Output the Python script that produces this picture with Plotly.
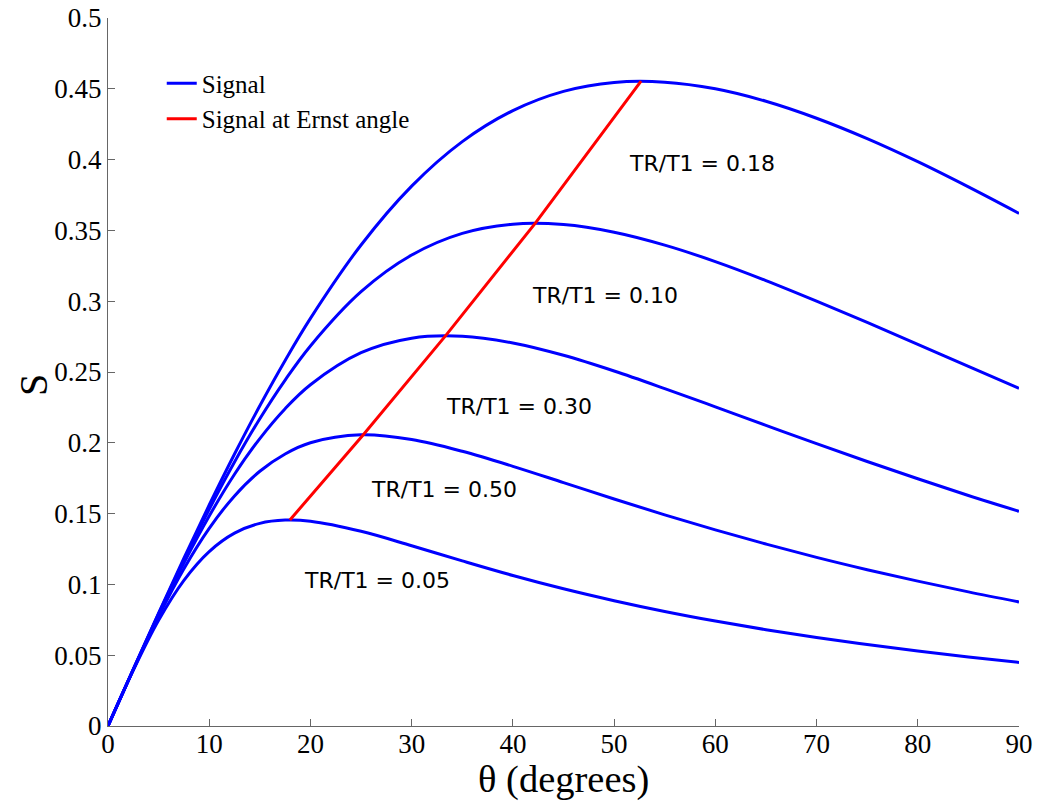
import plotly.graph_objects as go

# flip angle grid (degrees)
theta = [0, 2.5, 5, 7.5, 10, 12.5, 15, 17.5, 20, 25, 30, 35, 40, 45, 50, 55, 60, 65, 70, 75, 80, 85, 90]

# signal curves
s_a = [0, 0.0394, 0.0747, 0.1029, 0.1232, 0.1362, 0.1431, 0.1454, 0.1446, 0.1375, 0.1273, 0.1166, 0.1063,
       0.0969, 0.0885, 0.0809, 0.0741, 0.0680, 0.0625, 0.0575, 0.0529, 0.0487, 0.0449]
s_b = [0, 0.0398, 0.0774, 0.1111, 0.1396, 0.1625, 0.1799, 0.1921, 0.2000, 0.2056, 0.2023, 0.1940, 0.1834,
       0.1719, 0.1603, 0.1491, 0.1385, 0.1285, 0.1191, 0.1104, 0.1023, 0.0947, 0.0876]
s_c = [0, 0.0399, 0.0787, 0.1151, 0.1483, 0.1778, 0.2030, 0.2241, 0.2410, 0.2636, 0.2739, 0.2753, 0.2705,
       0.2618, 0.2507, 0.2383, 0.2254, 0.2123, 0.1994, 0.1868, 0.1746, 0.1628, 0.1516]
s_d = [0, 0.0400, 0.0793, 0.1172, 0.1531, 0.1865, 0.2170, 0.2443, 0.2684, 0.3067, 0.3326, 0.3479, 0.3544,
       0.3541, 0.3487, 0.3396, 0.3280, 0.3146, 0.3001, 0.2850, 0.2695, 0.2539, 0.2385]
s_e = [0, 0.0401, 0.0797, 0.1185, 0.1561, 0.1921, 0.2262, 0.2582, 0.2879, 0.3397, 0.3813, 0.4127, 0.4346,
       0.4482, 0.4545, 0.4547, 0.4500, 0.4412, 0.4292, 0.4148, 0.3985, 0.3807, 0.3620]
curves = [s_a, s_b, s_c, s_d, s_e]

# Ernst-angle locus
ernst_theta = [17.97, 25.18, 33.36, 42.2, 52.66]
ernst_s = [0.1455, 0.2053, 0.2757, 0.3550, 0.4554]

# labels as placed in the picture
label_text = ["TR/T1 = 0.18", "TR/T1 = 0.10", "TR/T1 = 0.30", "TR/T1 = 0.50", "TR/T1 = 0.05"]
label_x = [58.7, 49.1, 40.6, 33.2, 26.6]
label_y = [0.3976, 0.3037, 0.2253, 0.1667, 0.1031]

x_ticks = [0, 10, 20, 30, 40, 50, 60, 70, 80, 90]
y_ticks = [0, 0.05, 0.1, 0.15, 0.2, 0.25, 0.3, 0.35, 0.4, 0.45, 0.5]
y_tick_text = ["0", "0.05", "0.1", "0.15", "0.2", "0.25", "0.3", "0.35", "0.4", "0.45", "0.5"]

fig = go.Figure()
for i, s in enumerate(curves):
    fig.add_trace(go.Scatter(x=theta, y=s, mode="lines", line=dict(color="#0000FF", width=3, shape="spline"),
                             name="Signal", showlegend=(i == 0), legendrank=1))
fig.add_trace(go.Scatter(x=ernst_theta, y=ernst_s, mode="lines", line=dict(color="#FF0000", width=3),
                         name="Signal at Ernst angle", legendrank=2))

for t, x, y in zip(label_text, label_x, label_y):
    fig.add_annotation(x=x, y=y, text=t, showarrow=False,
                       font=dict(family="DejaVu Sans", size=22, color="black"))

# axis titles
fig.add_annotation(xref="paper", yref="paper", x=0.5, y=-0.0749, text="θ (degrees)", showarrow=False,
                   xanchor="center", yanchor="middle",
                   font=dict(family="Liberation Serif", size=38.5, color="black"))
fig.add_annotation(xref="paper", yref="paper", x=-0.082, y=0.482, text="S", showarrow=False, textangle=-90,
                   xanchor="center", yanchor="middle",
                   font=dict(family="Liberation Serif", size=40, color="black"))

axis_common = dict(showline=True, linecolor="#666666", linewidth=1, ticks="inside", ticklen=7,
                   tickcolor="#666666", showgrid=False, zeroline=False, mirror=False, automargin=False,
                   tickfont=dict(family="Liberation Serif", size=27, color="black"))

fig.update_layout(
    width=1040, height=803,
    margin=dict(l=108, r=21, t=18, b=77),
    plot_bgcolor="white", paper_bgcolor="white",
    xaxis=dict(range=[0, 90], tickvals=x_ticks, ticklabelstandoff=-6, **axis_common),
    yaxis=dict(range=[0, 0.5], tickvals=y_ticks, ticktext=y_tick_text, **axis_common),
    legend=dict(x=0.059, y=0.940, xanchor="left", yanchor="top", bgcolor="rgba(0,0,0,0)",
                font=dict(family="Liberation Serif", size=25, color="black"), tracegroupgap=0),
    showlegend=True,
)

fig.write_html("out.html", config={"displayModeBar": False},
               post_script="document.body.style.margin='0';")
